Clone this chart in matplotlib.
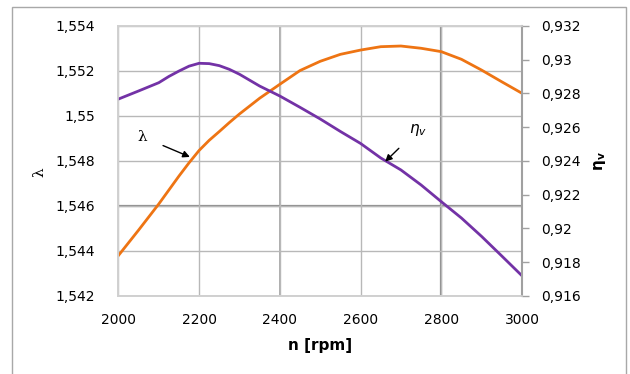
import matplotlib
matplotlib.use("Agg")
import matplotlib.pyplot as plt
from matplotlib.patches import Rectangle
from matplotlib.ticker import FuncFormatter

# engine speed [rpm]
n_rpm = [2000, 2050, 2100, 2125, 2150, 2175, 2200, 2225, 2250, 2275, 2300, 2350,
         2400, 2450, 2500, 2550, 2600, 2650, 2700, 2750, 2800, 2850, 2900, 2950,
         3000]
# lambda (left axis)
lam = [1.5438, 1.54493, 1.54609, 1.54671, 1.54733, 1.54792, 1.54847, 1.54892,
       1.54931, 1.54971, 1.55009, 1.55079, 1.55141, 1.55202, 1.55243, 1.55274,
       1.55293, 1.55308, 1.55311, 1.55301, 1.55286, 1.55252, 1.55204, 1.55152,
       1.55101]
# volumetric efficiency (right axis)
eta_v = [0.92767, 0.92815, 0.92864, 0.92901, 0.92933, 0.92962, 0.92979, 0.92977,
         0.92965, 0.92943, 0.92914, 0.92844, 0.92785, 0.92718, 0.92649, 0.92575,
         0.92504, 0.92418, 0.92347, 0.92258, 0.92159, 0.92062, 0.91953, 0.91837,
         0.9172]

x_ticks = [2000, 2200, 2400, 2600, 2800, 3000]
lam_ticks = [1.542, 1.544, 1.546, 1.548, 1.55, 1.552, 1.554]
eta_ticks = [0.916, 0.918, 0.92, 0.922, 0.924, 0.926, 0.928, 0.93, 0.932]

orange = "#EE7413"
purple = "#7332A6"
grid_c = "#b8b8b8"


def comma_fmt(v, pos):
    s = ("%.3f" % v).rstrip("0").rstrip(".")
    return s.replace(".", ",")


plt.rcParams["font.family"] = "DejaVu Sans"

fig = plt.figure(figsize=(6.3, 3.74), dpi=100)
ax = fig.add_axes([0.188, 0.2086, 0.6405, 0.7219])
ax2 = ax.twinx()

ax.set_xlim(2000, 3000)
ax.set_ylim(1.542, 1.554)
ax2.set_ylim(0.916, 0.932)

ax.set_xticks(x_ticks)
ax.set_yticks(lam_ticks)
ax2.set_yticks(eta_ticks)
ax.yaxis.set_major_formatter(FuncFormatter(comma_fmt))
ax2.yaxis.set_major_formatter(FuncFormatter(comma_fmt))

ax.grid(True, color=grid_c, linewidth=1)
ax.set_axisbelow(True)
# darker lines as in the source picture
ax.axhline(1.546, color="#8c8c8c", linewidth=1.6, zorder=0.5)
ax.axvline(2800, color="#8c8c8c", linewidth=1.6, zorder=0.5)
ax.axvline(2400, color="#a0a0a0", linewidth=1.2, zorder=0.5)

ax.plot(n_rpm, lam, color=orange, linewidth=2)
ax2.plot(n_rpm, eta_v, color=purple, linewidth=2)

for a in (ax, ax2):
    for s in a.spines.values():
        s.set_color("#d0d0d0")
        s.set_linewidth(1.2)
ax2.spines["right"].set_color("#a0a0a0")
ax2.spines["right"].set_linewidth(1.5)

ax.tick_params(axis="x", length=0, pad=12, labelsize=10, colors="black")
ax.tick_params(axis="y", length=0, pad=17, labelsize=10)
ax2.tick_params(axis="y", length=5, width=1, color="#a0a0a0", pad=9, labelsize=10)

ax.set_xlabel("n [rpm]", fontsize=11, fontweight="bold", labelpad=8)
ax.set_ylabel("λ", fontsize=11, fontfamily="DejaVu Serif", labelpad=4)
ax.yaxis.set_label_coords(-0.178, 0.46)
ax2.set_ylabel(r"$\mathbf{\eta_v}$", fontsize=11, rotation=90, labelpad=8)

ax.annotate("λ", xy=(2177, 1.54818), xytext=(2060, 1.54907),
            fontsize=11, fontfamily="DejaVu Serif", ha="center", va="center",
            arrowprops=dict(arrowstyle="-|>", color="black", lw=1,
                            shrinkA=10, shrinkB=0, mutation_scale=10))
ax2.annotate(r"$\eta_v$", xy=(2661, 0.92396), xytext=(2742, 0.92585),
             fontsize=11, ha="center", va="center",
             arrowprops=dict(arrowstyle="-|>", color="black", lw=1,
                             shrinkA=8, shrinkB=0, mutation_scale=10))

# outer chart frame
fig.patches.append(Rectangle((12 / 630, -0.05), 614 / 630, 1.05 - 7 / 374,
                             transform=fig.transFigure, fill=False,
                             edgecolor="#a8a8a8", linewidth=1))

fig.savefig("out.png", dpi=100)
